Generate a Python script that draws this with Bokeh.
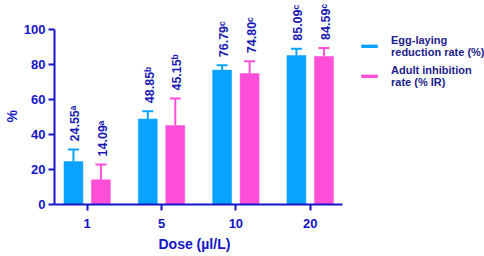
import math
from bokeh.plotting import figure
from bokeh.models import (Range1d, FixedTicker, Whisker, TeeHead, ColumnDataSource,
                          Legend, LegendItem, Title)
from bokeh.core.properties import value
from bokeh.embed import file_html
from bokeh.resources import INLINE

doses = ["1", "5", "10", "20"]
egg_rate = [24.55, 48.85, 76.79, 85.09]
egg_err = [6.9, 4.5, 2.8, 3.9]
egg_letters = ["ᵃ", "ᵇ", "ᶜ", "ᶜ"]
adult_rate = [14.09, 45.15, 74.80, 84.59]
adult_err = [8.8, 15.4, 7.1, 4.9]
adult_letters = ["ᵃ", "ᵇ", "ᶜ", "ᶜ"]
y_ticks = [0, 20, 40, 60, 80, 100]

BLUE = "#0AA2FF"
PINK = "#FF4FD8"
AXIS = "#1414C8"
TEXT = "#1A1AB4"
FONT = "Liberation Sans"

# frame spans the canvas to the top and right so that labels are not clipped;
# the axis lines are bounded to the real data extent
p = figure(width=484, height=256, output_backend="svg", toolbar_location=None,
           x_range=Range1d(-0.44, 5.345), y_range=Range1d(0, 116.57),
           min_border_left=53, min_border_right=0, min_border_top=0,
           min_border_bottom=52)
p.outline_line_color = None
p.grid.visible = False

off = 0.185
bw = 0.255
idx = list(range(len(doses)))

def series(vals, errs, letters, shift):
    xs = [i + shift for i in idx]
    return ColumnDataSource(dict(
        x=xs, top=vals, upper=[v + e for v, e in zip(vals, errs)],
        label=[f"{v:.2f}{l}" for v, l in zip(vals, letters)]))

src_egg = series(egg_rate, egg_err, egg_letters, -off)
src_ad = series(adult_rate, adult_err, adult_letters, off)

renderers = []
for src, col in ((src_egg, BLUE), (src_ad, PINK)):
    w = Whisker(source=src, base="x", lower="top", upper="upper", dimension="height",
                line_color=col, line_width=2,
                upper_head=TeeHead(size=11, line_color=col, line_width=2),
                lower_head=None, level="underlay")
    p.add_layout(w)
    r = p.vbar(x="x", top="top", width=bw, bottom=0, source=src, fill_color=col,
               line_color=col, line_width=0.5)
    renderers.append(r)
    p.text(x="x", y="upper", text="label", source=src, angle=math.pi / 2,
           text_align="left", text_baseline="middle", x_offset=2, y_offset=-8,
           text_color=TEXT, text_font=value(FONT), text_font_style="bold",
           text_font_size="12.5px")

p.xaxis.ticker = FixedTicker(ticks=idx)
p.xaxis.major_label_overrides = {i: d for i, d in zip(idx, doses)}
p.yaxis.ticker = FixedTicker(ticks=y_ticks)
p.xaxis.bounds = (-0.44, 3.44)
p.yaxis.bounds = (0, 100)

for ax in (p.xaxis, p.yaxis):
    ax.axis_line_color = AXIS
    ax.axis_line_width = 2
    ax.major_tick_line_color = AXIS
    ax.major_tick_line_width = 2
    ax.major_tick_out = 6
    ax.major_tick_in = 0
    ax.minor_tick_line_color = None
    ax.major_label_text_color = AXIS
    ax.major_label_text_font = FONT
    ax.major_label_text_font_style = "bold"
    ax.major_label_text_font_size = "13px"

p.xaxis.major_label_standoff = 8
p.yaxis.major_label_standoff = 3

# axis titles as side titles so they can be centred on the bounded axes
p.add_layout(Title(text="Dose (µl/L)", align="left", offset=104, standoff=7,
                   text_color=AXIS, text_font=FONT, text_font_style="bold",
                   text_font_size="14px"), "below")
p.add_layout(Title(text="%", align="left", offset=82, standoff=2,
                   text_color=AXIS, text_font=FONT, text_font_style="bold",
                   text_font_size="14px"), "left")

legend = Legend(items=[
    LegendItem(label="Egg-laying\nreduction rate (%)", renderers=[renderers[0]]),
    LegendItem(label="Adult inhibition\nrate (% IR)", renderers=[renderers[1]]),
], location=(305, 116), glyph_width=20, glyph_height=4, label_standoff=12,
   spacing=6, padding=0, margin=0, border_line_color=None,
   background_fill_alpha=0,
   label_text_font=FONT, label_text_font_style="bold", label_text_font_size="11px",
   label_text_color="#1C1C8C")
p.add_layout(legend)

open("out.html", "w").write(file_html(p, INLINE))
